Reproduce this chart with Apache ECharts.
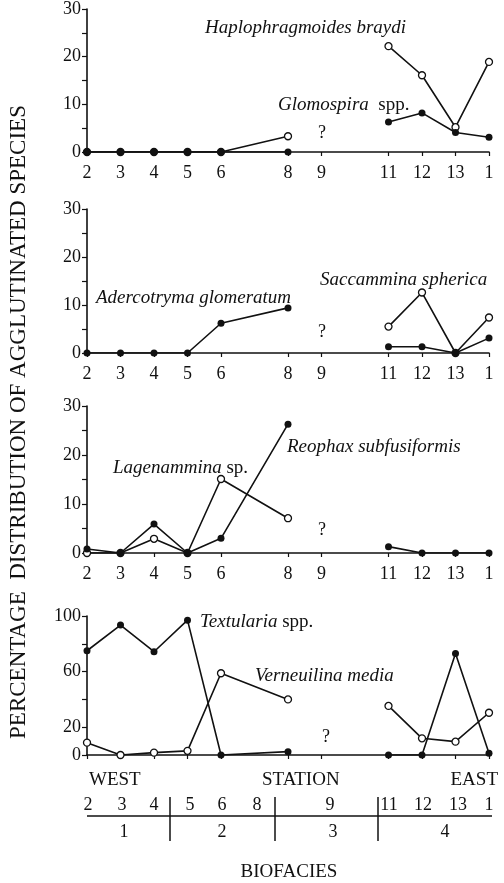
<!DOCTYPE html>
<html>
<head>
<meta charset="utf-8">
<script src="https://cdn.jsdelivr.net/npm/echarts@6/dist/echarts.min.js"></script>
<style>
  html, body { margin: 0; padding: 0; background: #fff; }
  #chart { width: 504px; height: 883px; }
</style>
</head>
<body>
<div id="chart"></div>
<script>
// stations along the transect, west -> east (7 and 10 not sampled)
const xStations = ['2', '3', '4', '5', '6', '7', '8', '9', '10', '11', '12', '13', '1'];
const unsampled = ['7', '10'];
const sampledStations = ['2', '3', '4', '5', '6', '8', '9', '11', '12', '13', '1'];

// panel 1
const haplophragmoides = [0, 0, 0, 0, 0, 3.3, null, 22.2, 16.1, 5.2, 18.9];
const glomospira = [0, 0, 0, 0, 0, 0, null, 6.3, 8.2, 4.1, 3.1];
// panel 2
const saccammina = [null, null, null, null, null, null, null, 5.5, 12.6, 0, 7.4];
const adercotryma = [0, 0, 0, 0, 6.2, 9.4, null, 1.3, 1.3, 0, 3.1];
// panel 3
const lagenammina = [0, 0, 2.9, 0, 15.1, 7.1, null, null, null, null, null];
const reophax = [0.8, 0, 5.9, 0, 3, 26.3, null, 1.3, 0, 0, 0];
// panel 4
const verneuilina = [8.9, 0, 1.7, 3, 58.8, 40, null, 35.3, 12, 9.6, 30.4];
const textularia = [75, 93.5, 74.3, 97, 0, 2.4, null, 0, 0, 73, 1.2];

// y axis ticks
const yMaxSmall = 30, yStepSmall = 5, yLabelStepSmall = 10;
const yMaxLarge = 100, yStepLarge = 20;
const yLabelsLarge = [0, 20, 60, 100];

// biofacies table
const biofaciesNames = ['1', '2', '3', '4'];
const biofaciesStations = [['2', '3', '4'], ['5', '6', '8'], ['9'], ['11', '12', '13', '1']];
const directionLabels = ['WEST', 'STATION', 'EAST'];

const serif = 'Liberation Serif';
const ink = '#111';
const fs = 18;      // tick / table text
const fsName = 19;  // species names

const grids = [
    { left: 87, width: 402, top: 5, height: 147 },
    { left: 87, width: 402, top: 209, height: 144 },
    { left: 87, width: 402, top: 406, height: 147 },
    { left: 87, width: 402, top: 616, height: 139 }
];

const showStation = (idx, val) => unsampled.indexOf(val) < 0;

function toData(values) {
    return sampledStations.map((s, i) => [xStations.indexOf(s), values[i]]);
}

const xAxes = grids.map((g, i) => ({
    type: 'category',
    gridIndex: i,
    data: xStations,
    boundaryGap: false,
    axisLine: { lineStyle: { color: ink, width: 1.6 } },
    axisTick: { interval: showStation, length: 4, lineStyle: { color: ink, width: 1.2 } },
    axisLabel: {
        show: i < 3,
        interval: showStation,
        margin: 12,
        color: ink,
        fontFamily: serif,
        fontSize: fs
    }
}));

const yAxes = grids.map((g, i) => {
    const large = i === 3;
    return {
        type: 'value',
        gridIndex: i,
        min: 0,
        max: large ? yMaxLarge : yMaxSmall,
        interval: large ? yStepLarge : yStepSmall,
        splitLine: { show: false },
        axisLine: { show: true, lineStyle: { color: ink, width: 1.6 } },
        axisTick: { show: true, length: 5, lineStyle: { color: ink, width: 1.2 } },
        axisLabel: {
            margin: 6,
            color: ink,
            fontFamily: serif,
            fontSize: fs,
            formatter: function (v) {
                if (large) return yLabelsLarge.indexOf(v) >= 0 ? String(v) : '';
                return v % yLabelStepSmall === 0 ? String(v) : '';
            }
        }
    };
});

function lineSeries(name, values, panel, open) {
    return {
        name: name,
        type: 'line',
        xAxisIndex: panel,
        yAxisIndex: panel,
        data: toData(values),
        connectNulls: false,
        symbol: 'circle',
        symbolSize: 7,
        showAllSymbol: true,
        lineStyle: { color: ink, width: 1.6 },
        itemStyle: open
            ? { color: '#fff', borderColor: ink, borderWidth: 1.3 }
            : { color: ink, borderColor: ink, borderWidth: 0 },
        z: open ? 2 : 3,
        animation: false
    };
}

const series = [
    lineSeries('Haplophragmoides braydi', haplophragmoides, 0, true),
    lineSeries('Glomospira spp.', glomospira, 0, false),
    lineSeries('Saccammina spherica', saccammina, 1, true),
    lineSeries('Adercotryma glomeratum', adercotryma, 1, false),
    lineSeries('Lagenammina sp.', lagenammina, 2, true),
    lineSeries('Reophax subfusiformis', reophax, 2, false),
    lineSeries('Verneuilina media', verneuilina, 3, true),
    lineSeries('Textularia spp.', textularia, 3, false)
];

function label(text, x, y, size, align) {
    return {
        type: 'text',
        x: x,
        y: y,
        style: {
            text: text,
            fill: ink,
            fontFamily: serif,
            fontSize: size,
            textAlign: align || 'left',
            textVerticalAlign: 'middle',
            rich: { i: { fontStyle: 'italic', fontFamily: serif, fontSize: size, fill: ink } }
        }
    };
}

const graphics = [
    // species names
    label('{i|Haplophragmoides braydi}', 205, 28, fsName),
    label('{i|Glomospira}  spp.', 278, 105, fsName),
    label('{i|Saccammina spherica}', 320, 280, fsName),
    label('{i|Adercotryma glomeratum}', 96, 298, fsName),
    label('{i|Reophax subfusiformis}', 287, 447, fsName),
    label('{i|Lagenammina} sp.', 113, 468, fsName),
    label('{i|Textularia} spp.', 200, 622, fsName),
    label('{i|Verneuilina media}', 255, 676, fsName),
    // gaps at station 9
    label('?', 318, 133, fs),
    label('?', 318, 332, fs),
    label('?', 318, 530, fs),
    label('?', 322, 737, fs),
    // y title
    {
        type: 'text',
        x: 19,
        y: 422,
        rotation: Math.PI / 2,
        style: {
            text: 'PERCENTAGE  DISTRIBUTION OF AGGLUTINATED SPECIES',
            fill: ink,
            fontFamily: serif,
            fontSize: 23,
            textAlign: 'center',
            textVerticalAlign: 'middle'
        }
    },
    // direction along the transect
    label(directionLabels[0], 89, 780, 19),
    label(directionLabels[1], 262, 780, 19),
    label(directionLabels[2], 498, 780, 19, 'right'),
    label('BIOFACIES', 289, 872, 19, 'center'),
    // table lines
    { type: 'line', shape: { x1: 87, y1: 816, x2: 492, y2: 816 }, style: { stroke: ink, lineWidth: 1.5 } }
];

// biofacies table layout
const tableSeparators = [170, 275, 378];
const tableStationX = [[88, 122, 154], [190, 222, 257], [330], [389, 423, 458, 489]];
const tableNameX = [124, 222, 333, 445];
tableSeparators.forEach(x => {
    graphics.push({ type: 'line', shape: { x1: x, y1: 797, x2: x, y2: 841 }, style: { stroke: ink, lineWidth: 1.5 } });
});
biofaciesStations.forEach((grp, gi) => {
    grp.forEach((s, si) => {
        graphics.push(label(s, tableStationX[gi][si], 805, fs, 'center'));
    });
    graphics.push(label(biofaciesNames[gi], tableNameX[gi], 832, fs, 'center'));
});

const myChart = echarts.init(document.getElementById('chart'));
myChart.setOption({
    backgroundColor: '#fff',
    animation: false,
    textStyle: { fontFamily: serif },
    grid: grids,
    xAxis: xAxes,
    yAxis: yAxes,
    series: series,
    graphic: graphics
});
</script>
</body>
</html>
